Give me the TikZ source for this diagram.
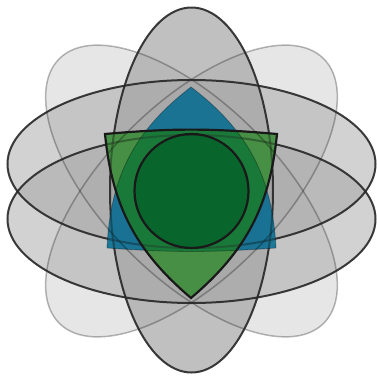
\documentclass[tikz,border=0pt]{standalone}
\usepackage{tikz}
\usetikzlibrary{calc}
\usepackage{xcolor}

\definecolor{shade}{RGB}{160,160,160}
\definecolor{capblue}{RGB}{6,108,145}
\definecolor{leafgreen}{RGB}{58,140,56}
\definecolor{midgreen}{RGB}{22,120,56}
\definecolor{coregreen}{RGB}{6,100,44}

\begin{document}
\begin{tikzpicture}[
        % pixel grid of the reference, y pointing down
            x=1pt, y=-1pt,
        % fills of the gray ellipses
            palefill/.style={fill=shade, fill opacity=0.26},
            flatfill/.style={fill=shade, fill opacity=0.47},
            tallfill/.style={fill=shade, fill opacity=0.66},
        % outlines of the gray ellipses
            paleline/.style={draw=black, draw opacity=0.28, line width=1.5pt},
            darkline/.style={draw=black!85, draw opacity=0.9, line width=2pt},
        % colored core
            core/.style={fill opacity=0.88},
            rim/.style={draw=black!90, line width=2.2pt}
        ]
            \useasboundingbox (0,0) rectangle (377,378);

            % --- CENTRES ---
            \coordinate (mid) at (191.5,191);
            \coordinate (upper) at (191.5,164);
            \coordinate (lower) at (191.5,219);
            \coordinate (tall) at (191.5,190);

            % --- CORNERS OF THE TWO CURVED TRIANGLES ---
            \coordinate (capT) at (191,87);
            \coordinate (capL) at (107,248);
            \coordinate (capR) at (276,248);
            \coordinate (leafL) at (105,134);
            \coordinate (leafR) at (277,134);
            \coordinate (leafB) at (191,298);

            \newcommand{\cappath}{(capT) to[bend right=25] (capL) to[bend right=4] (capR) to[bend right=25] cycle}
            \newcommand{\leafpath}{(leafL) to[bend right=22] (leafB) to[bend right=22] (leafR) to[bend right=5] cycle}

            % --- FILLS ---
            \fill[palefill, rotate around={45:(mid)}] (mid) ellipse[x radius=187, y radius=87];
            \fill[palefill, rotate around={-45:(mid)}] (mid) ellipse[x radius=187, y radius=87];
            \fill[flatfill] (upper) ellipse[x radius=184, y radius=84];
            \fill[flatfill] (lower) ellipse[x radius=184, y radius=84];
            \fill[tallfill] (tall) ellipse[x radius=81.5, y radius=182.5];

            % --- OUTLINES ---
            \draw[paleline, rotate around={45:(mid)}] (mid) ellipse[x radius=187, y radius=87];
            \draw[paleline, rotate around={-45:(mid)}] (mid) ellipse[x radius=187, y radius=87];
            \draw[darkline] (upper) ellipse[x radius=184, y radius=84];
            \draw[darkline] (lower) ellipse[x radius=184, y radius=84];
            \draw[darkline] (tall) ellipse[x radius=81.5, y radius=182.5];

            % --- COLORED CORE ---
            \fill[core, capblue] \cappath;
            \fill[core, leafgreen] \leafpath;
            \begin{scope}
                \clip \cappath;
                \fill[core, midgreen] \leafpath;
            \end{scope}
            \fill[core, coregreen] (mid) circle[radius=57];

            % outlines seen through the core
            \begin{scope}
                \clip \cappath \leafpath;
                \draw[paleline, draw opacity=0.25, rotate around={45:(mid)}] (mid) ellipse[x radius=187, y radius=87];
                \draw[paleline, draw opacity=0.25, rotate around={-45:(mid)}] (mid) ellipse[x radius=187, y radius=87];
                \draw[darkline, draw opacity=0.35] (upper) ellipse[x radius=184, y radius=84];
                \draw[darkline, draw opacity=0.35] (lower) ellipse[x radius=184, y radius=84];
                \draw[darkline, draw opacity=0.35] (tall) ellipse[x radius=81.5, y radius=182.5];
            \end{scope}

            \draw[draw=black, draw opacity=0.3, line width=0.8pt] \cappath;
            \draw[rim] \leafpath;
            \draw[rim] (mid) circle[radius=57];
        \end{tikzpicture}
\end{document}
